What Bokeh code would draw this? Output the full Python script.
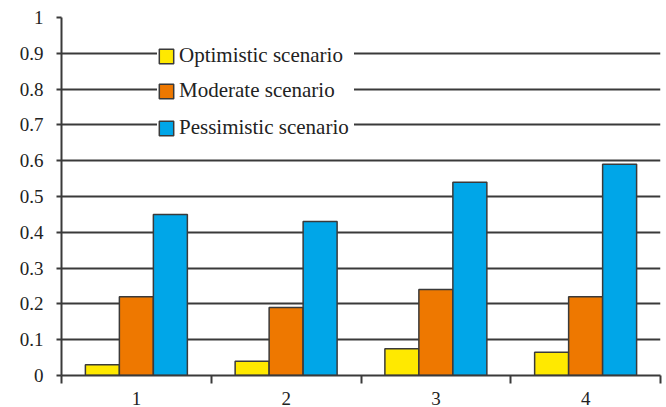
from bokeh.plotting import figure
from bokeh.models import ColumnDataSource, FixedTicker, Legend, LegendItem
from bokeh.embed import file_html
from bokeh.resources import INLINE

categories = [1, 2, 3, 4]
optimistic = [0.03, 0.04, 0.075, 0.065]
moderate = [0.22, 0.19, 0.24, 0.22]
pessimistic = [0.45, 0.43, 0.54, 0.59]
y_ticks = [0, 0.1, 0.2, 0.3, 0.4, 0.5, 0.6, 0.7, 0.8, 0.9, 1.0]
y_labels = ["0", "0.1", "0.2", "0.3", "0.4", "0.5", "0.6", "0.7", "0.8", "0.9", "1"]
series_names = ["Optimistic scenario", "Moderate scenario", "Pessimistic scenario"]
colors = ["#FFE900", "#EE7800", "#00A6E8"]

FONT = "Liberation Serif"
DARK = "#3a3a3a"

p = figure(width=666, height=407, output_backend="svg", toolbar_location=None,
           x_range=(0.5, 4.5), y_range=(0, 1),
           min_border_left=61, min_border_right=6, min_border_top=17, min_border_bottom=32)
p.outline_line_color = None

bw = 0.227
offsets = [-bw, 0.0, bw]
renderers = []
for vals, off, col in zip([optimistic, moderate, pessimistic], offsets, colors):
    src = ColumnDataSource(dict(x=[c + off for c in categories], top=vals))
    r = p.vbar(x="x", top="top", bottom=0, width=bw, source=src,
               fill_color=col, line_color=DARK, line_width=1.5)
    renderers.append(r)

p.xgrid.visible = False
p.ygrid.ticker = FixedTicker(ticks=y_ticks)
p.ygrid.grid_line_color = DARK
p.ygrid.grid_line_width = 2

p.yaxis.ticker = FixedTicker(ticks=y_ticks)
p.yaxis.major_label_overrides = {t: l for t, l in zip(y_ticks, y_labels)}
p.yaxis.axis_line_color = DARK
p.yaxis.axis_line_width = 2
p.yaxis.major_tick_line_color = DARK
p.yaxis.major_tick_line_width = 2
p.yaxis.major_tick_out = 5
p.yaxis.major_tick_in = 0
p.yaxis.minor_tick_line_color = None
p.yaxis.major_label_standoff = 13
p.yaxis.major_label_text_font = FONT
p.yaxis.major_label_text_font_size = "19px"
p.yaxis.major_label_text_color = "#222222"

p.xaxis.ticker = FixedTicker(ticks=categories, minor_ticks=[0.5, 1.5, 2.5, 3.5, 4.5])
p.xaxis.axis_line_color = DARK
p.xaxis.axis_line_width = 2
p.xaxis.major_tick_out = 0
p.xaxis.major_tick_in = 0
p.xaxis.minor_tick_out = 8
p.xaxis.minor_tick_in = 0
p.xaxis.minor_tick_line_color = DARK
p.xaxis.minor_tick_line_width = 2
p.xaxis.major_label_standoff = 8
p.xaxis.major_label_text_font = FONT
p.xaxis.major_label_text_font_size = "19px"
p.xaxis.major_label_text_color = "#222222"

locs = [(96, 307), (96, 272), (96, 235)]
for name, r, loc in zip(series_names, renderers, locs):
    lg = Legend(items=[LegendItem(label=name, renderers=[r])], location=loc,
                background_fill_color="white", background_fill_alpha=1.0,
                border_line_color=None, padding=6, margin=0, spacing=0,
                glyph_width=18, glyph_height=18, label_standoff=4,
                label_width=175,
                label_text_font=FONT, label_text_font_size="21px",
                label_text_color="#222222", label_height=20)
    p.add_layout(lg, "center")

open("out.html", "w").write(file_html(p, INLINE))
